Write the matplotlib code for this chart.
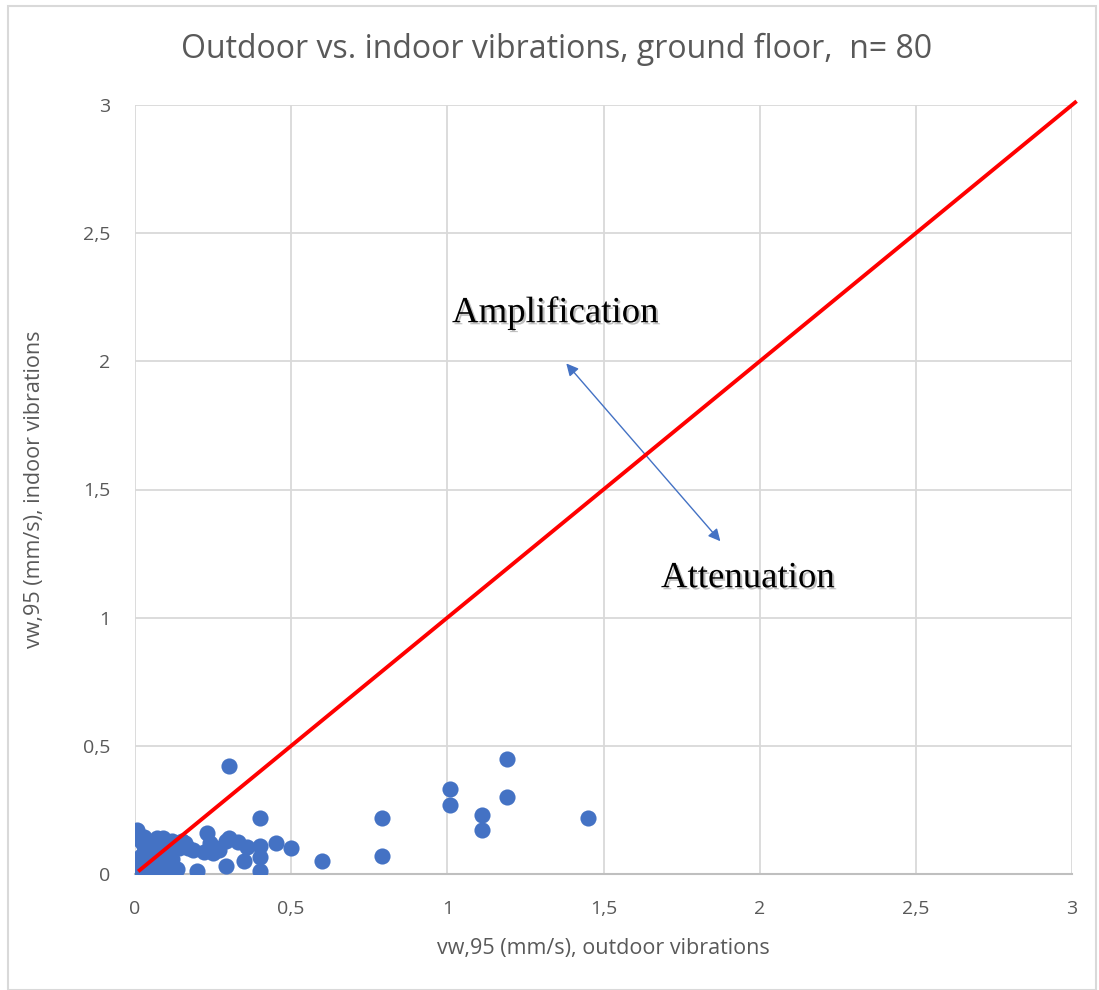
import numpy as np
import matplotlib.pyplot as plt
import matplotlib.patheffects as pe
from matplotlib.patches import Rectangle

# outdoor (x) vs indoor (y) vw,95 values, mm/s
x_out = [1.45, 1.19, 1.19, 1.11, 1.11, 1.01, 1.01, 0.79, 0.79, 0.60, 0.50, 0.45,
         0.40, 0.40, 0.40, 0.40, 0.30,
         0.23, 0.30, 0.33, 0.36, 0.35, 0.29, 0.20, 0.24, 0.27, 0.25, 0.22, 0.185, 0.29, 0.26,
         0.005, 0.01, 0.01, 0.02, 0.02, 0.03, 0.03, 0.03, 0.04, 0.04, 0.05, 0.05, 0.05,
         0.06, 0.06, 0.06, 0.07, 0.07, 0.07, 0.08, 0.08, 0.08, 0.09, 0.09, 0.09,
         0.10, 0.10, 0.10, 0.11, 0.11, 0.12, 0.12, 0.13, 0.13, 0.14, 0.15, 0.16,
         0.17, 0.02, 0.04, 0.06, 0.08, 0.10, 0.05, 0.07, 0.09, 0.03, 0.11, 0.135]
y_in = [0.22, 0.45, 0.30, 0.23, 0.17, 0.33, 0.27, 0.22, 0.07, 0.05, 0.10, 0.12,
        0.22, 0.11, 0.065, 0.01, 0.42,
        0.16, 0.14, 0.125, 0.105, 0.05, 0.03, 0.01, 0.12, 0.095, 0.08, 0.085, 0.095, 0.13, 0.10,
        0.17, 0.04, 0.01, 0.02, 0.13, 0.03, 0.08, 0.145, 0.05, 0.10, 0.01, 0.06, 0.12,
        0.02, 0.09, 0.13, 0.04, 0.11, 0.14, 0.02, 0.07, 0.13, 0.03, 0.10, 0.14,
        0.05, 0.12, 0.08, 0.02, 0.11, 0.06, 0.13, 0.02, 0.12, 0.10, 0.13, 0.12,
        0.10, 0.07, 0.03, 0.04, 0.05, 0.03, 0.02, 0.08, 0.06, 0.11, 0.09, 0.02]

line_x = [0.015, 3.01]
ticks = [0, 0.5, 1, 1.5, 2, 2.5, 3]
tick_labels = ["0", "0,5", "1", "1,5", "2", "2,5", "3"]

gray = "#595959"
blue = "#4472C4"

fig = plt.figure(figsize=(10.99, 9.9), dpi=100)
fig.patches.append(Rectangle((8 / 1099, 0), 1088 / 1099, 984 / 990, transform=fig.transFigure,
                             fill=False, edgecolor="#d9d9d9", lw=1.5))
ax = fig.add_axes([135 / 1099, 1 - 874 / 990, 937 / 1099, 769 / 990])

ax.set_xlim(0, 3)
ax.set_ylim(0, 3)
ax.set_xticks(ticks)
ax.set_yticks(ticks)
ax.set_xticklabels(tick_labels)
ax.set_yticklabels(tick_labels)
ax.grid(True, color="#d9d9d9", lw=1.3)
ax.set_axisbelow(True)
for s in ["top", "right", "left"]:
    ax.spines[s].set_visible(False)
ax.spines["bottom"].set_color("#bfbfbf")
ax.spines["bottom"].set_linewidth(1.5)
ax.tick_params(axis="x", pad=19)
ax.tick_params(axis="y", pad=18)
ax.tick_params(length=0, labelsize=14, labelcolor=gray)
for lab in ax.get_xticklabels() + ax.get_yticklabels():
    lab.set_family("Open Sans")

ax.scatter(x_out, y_in, s=135, color=blue, zorder=3, linewidths=0)
ax.plot(line_x, line_x, color="red", lw=2.8, zorder=4, clip_on=False)

ax.annotate("", xy=(1.375, 2.0), xytext=(1.88, 1.29),
            arrowprops=dict(arrowstyle="<|-|>", color=blue, lw=1, mutation_scale=18))

shadow = [pe.SimplePatchShadow(offset=(1.5, -1.5), shadow_rgbFace="gray", alpha=0.5), pe.Normal()]
ax.text(1.015, 2.19, "Amplification", family="Liberation Serif", fontsize=26.5,
        va="center", ha="left", path_effects=shadow)
ax.text(1.684, 1.155, "Attenuation", family="Liberation Serif", fontsize=26.5,
        va="center", ha="left", path_effects=shadow)

ax.set_xlabel("vw,95 (mm/s), outdoor vibrations", family="Open Sans", fontsize=15.5,
              color=gray, labelpad=14)
ax.set_ylabel("vw,95 (mm/s), indoor vibrations", family="Open Sans", fontsize=15.5,
              color=gray, labelpad=27)
fig.text(557 / 1099, 1 - 49 / 990, "Outdoor vs. indoor vibrations, ground floor,  n= 80",
         family="Open Sans", fontsize=23, color=gray, ha="center", va="center")

fig.savefig("out.png", dpi=100)
